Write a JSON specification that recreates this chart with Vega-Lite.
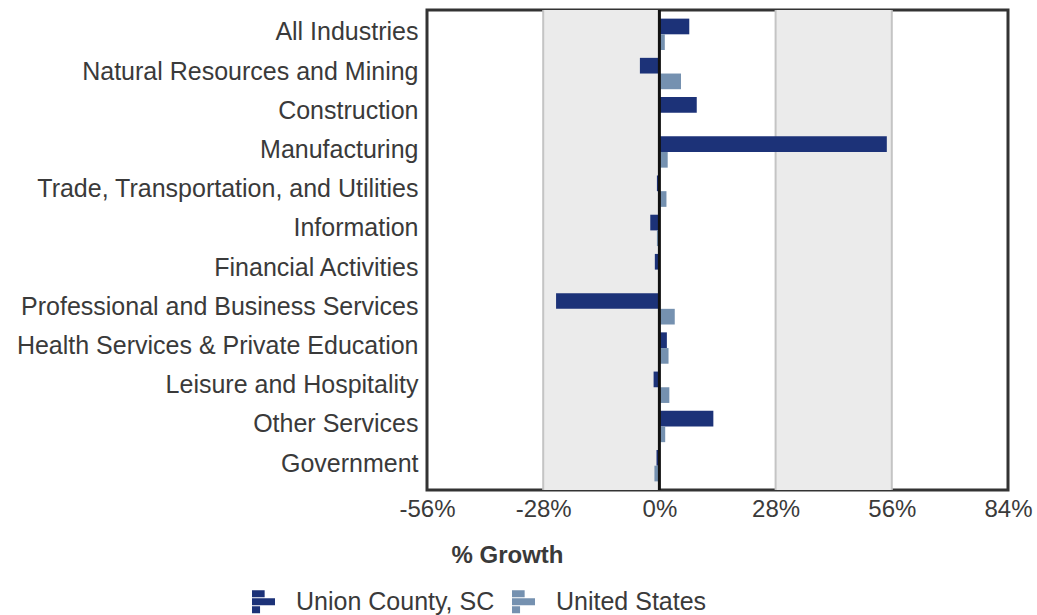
{
  "$schema": "https://vega.github.io/schema/vega-lite/v6.json",
  "width": 581,
  "height": 480,
  "autosize": {"type": "none"},
  "padding": {"left": 427, "top": 10, "right": 29, "bottom": 125},
  "background": "white",
  "config": {
    "font": "Liberation Sans",
    "view": {"stroke": "#333333", "strokeWidth": 3},
    "axis": {"labelFont": "Liberation Sans", "titleFont": "Liberation Sans"}
  },
  "layer": [
    {
      "data": {"values": [{"a": -28, "b": 0}, {"a": 28, "b": 56}]},
      "mark": {"type": "rect", "color": "#ebebeb"},
      "encoding": {
        "x": {"field": "a", "type": "quantitative", "scale": {"domain": [-56, 84], "nice": false, "zero": false}},
        "x2": {"field": "b"}
      }
    },
    {
      "data": {"values": [{"v": -28}, {"v": 28}, {"v": 56}]},
      "mark": {"type": "rule", "color": "#c4c4c4", "strokeWidth": 2},
      "encoding": {
        "x": {"field": "v", "type": "quantitative"}
      }
    },
    {
      "data": {
        "values": [
          {"industry": "All Industries", "series": "Union County, SC", "value": 7.2},
          {"industry": "All Industries", "series": "United States", "value": 1.3},
          {"industry": "Natural Resources and Mining", "series": "Union County, SC", "value": -4.7},
          {"industry": "Natural Resources and Mining", "series": "United States", "value": 5.2},
          {"industry": "Construction", "series": "Union County, SC", "value": 9.0},
          {"industry": "Construction", "series": "United States", "value": 0.1},
          {"industry": "Manufacturing", "series": "Union County, SC", "value": 54.8},
          {"industry": "Manufacturing", "series": "United States", "value": 2.0},
          {"industry": "Trade, Transportation, and Utilities", "series": "Union County, SC", "value": -0.6},
          {"industry": "Trade, Transportation, and Utilities", "series": "United States", "value": 1.7},
          {"industry": "Information", "series": "Union County, SC", "value": -2.2},
          {"industry": "Information", "series": "United States", "value": -0.6},
          {"industry": "Financial Activities", "series": "Union County, SC", "value": -1.1},
          {"industry": "Financial Activities", "series": "United States", "value": 0.1},
          {"industry": "Professional and Business Services", "series": "Union County, SC", "value": -24.9},
          {"industry": "Professional and Business Services", "series": "United States", "value": 3.7},
          {"industry": "Health Services & Private Education", "series": "Union County, SC", "value": 1.8},
          {"industry": "Health Services & Private Education", "series": "United States", "value": 2.2},
          {"industry": "Leisure and Hospitality", "series": "Union County, SC", "value": -1.4},
          {"industry": "Leisure and Hospitality", "series": "United States", "value": 2.4},
          {"industry": "Other Services", "series": "Union County, SC", "value": 13.0},
          {"industry": "Other Services", "series": "United States", "value": 1.4},
          {"industry": "Government", "series": "Union County, SC", "value": -0.7},
          {"industry": "Government", "series": "United States", "value": -1.2}
        ]
      },
      "mark": {"type": "bar"},
      "encoding": {
        "y": {
          "field": "industry",
          "type": "nominal",
          "sort": null,
          "scale": {"paddingInner": 0.2, "paddingOuter": 0.22},
          "axis": {
            "title": null,
            "ticks": false,
            "domain": false,
            "labelFontSize": 25,
            "labelColor": "#3a3a3a",
            "labelPadding": 9,
            "labelOffset": -2,
            "labelLimit": 500
          }
        },
        "yOffset": {"field": "series", "type": "nominal", "sort": ["Union County, SC", "United States"]},
        "x": {
          "field": "value",
          "type": "quantitative",
          "scale": {"domain": [-56, 84], "nice": false, "zero": false},
          "axis": {
            "values": [-56, -28, 0, 28, 56, 84],
            "labelExpr": "datum.value + '%'",
            "grid": false,
            "ticks": false,
            "domain": false,
            "labelFontSize": 24,
            "labelColor": "#3a3a3a",
            "labelPadding": 7,
            "labelFlush": false,
            "title": "% Growth",
            "titleFontSize": 24,
            "titleFontWeight": "bold",
            "titleColor": "#3a3a3a",
            "titleX": 80,
            "titleY": 72,
            "titleAlign": "center",
            "titleBaseline": "alphabetic"
          }
        },
        "color": {
          "field": "series",
          "type": "nominal",
          "scale": {"domain": ["Union County, SC", "United States"], "range": ["#1c3278", "#7591b0"]},
          "legend": {
            "title": null,
            "orient": "none",
            "direction": "horizontal",
            "legendX": -176,
            "legendY": 579,
            "symbolType": "M-1,-1H0.1V-0.4H-1Z M-1,-0.3H1V0.3H-1Z M-1,0.4H-0.3V1H-1Z",
            "symbolSize": 529,
            "symbolStrokeWidth": 0,
            "labelFontSize": 25,
            "labelLimit": 400,
            "labelColor": "#3a3a3a",
            "labelOffset": 20,
            "columnPadding": 16
          }
        }
      }
    },
    {
      "data": {"values": [{"v": 0}]},
      "mark": {"type": "rule", "color": "#111111", "strokeWidth": 3},
      "encoding": {
        "x": {"field": "v", "type": "quantitative"}
      }
    }
  ]
}
